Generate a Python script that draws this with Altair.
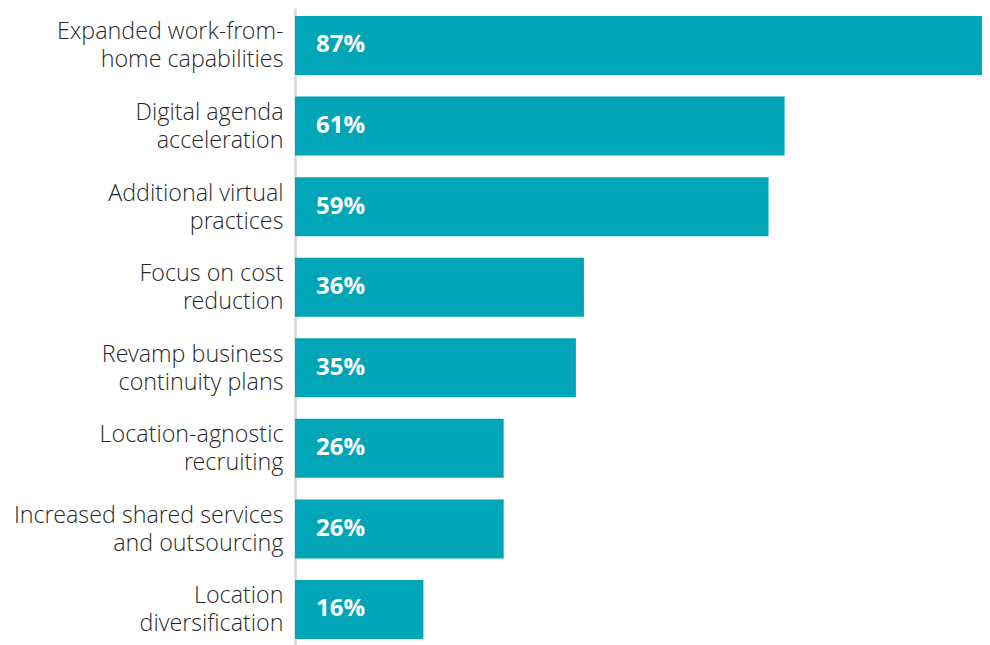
import altair as alt
import pandas as pd

categories = [
    "Expanded work-from-|home capabilities",
    "Digital agenda|acceleration",
    "Additional virtual|practices",
    "Focus on cost|reduction",
    "Revamp business|continuity plans",
    "Location-agnostic|recruiting",
    "Increased shared services|and outsourcing",
    "Location|diversification",
]
values = [87, 61, 59, 36, 35, 26, 26, 16]

df = pd.DataFrame({"cat": categories, "val": values})
df["lbl"] = df["val"].astype(str) + "%"

y_enc = alt.Y(
    "cat:N",
    sort=categories,
    title=None,
    scale=alt.Scale(paddingInner=0.2677, paddingOuter=0.0869, align=0.571),
    axis=alt.Axis(
        labelExpr="split(datum.label, '|')",
        labelFont="'Open Sans Light', 'Open Sans'",
        labelFontWeight=300,
        labelFontSize=23.3,
        labelLineHeight=28,
        labelOffset=-13,
        labelColor="#262626",
        labelPadding=12,
        ticks=False,
        domain=True,
        domainColor="#d6d6d6",
        domainWidth=2.5,
        labelLimit=400,
    ),
)

bars = alt.Chart(df).mark_bar(color="#00a5b8", clip=True).encode(
    y=y_enc,
    x=alt.X("val:Q", scale=alt.Scale(domain=[0, 85.6], nice=False), axis=None),
)

text = alt.Chart(df).mark_text(
    align="left", baseline="middle", color="white", font="Open Sans",
    fontWeight="bold", fontSize=24,
).encode(
    y=alt.Y("cat:N", sort=categories),
    x=alt.value(21),
    text="lbl:N",
)

chart = (bars + text).properties(
    width=687,
    height=637,
    autosize=alt.AutoSizeParams(type="none"),
    padding={"left": 287, "top": 0, "right": 0, "bottom": 0},
).configure_view(stroke=None)

chart.save("out.html", embed_options={"renderer": "svg", "actions": False})
